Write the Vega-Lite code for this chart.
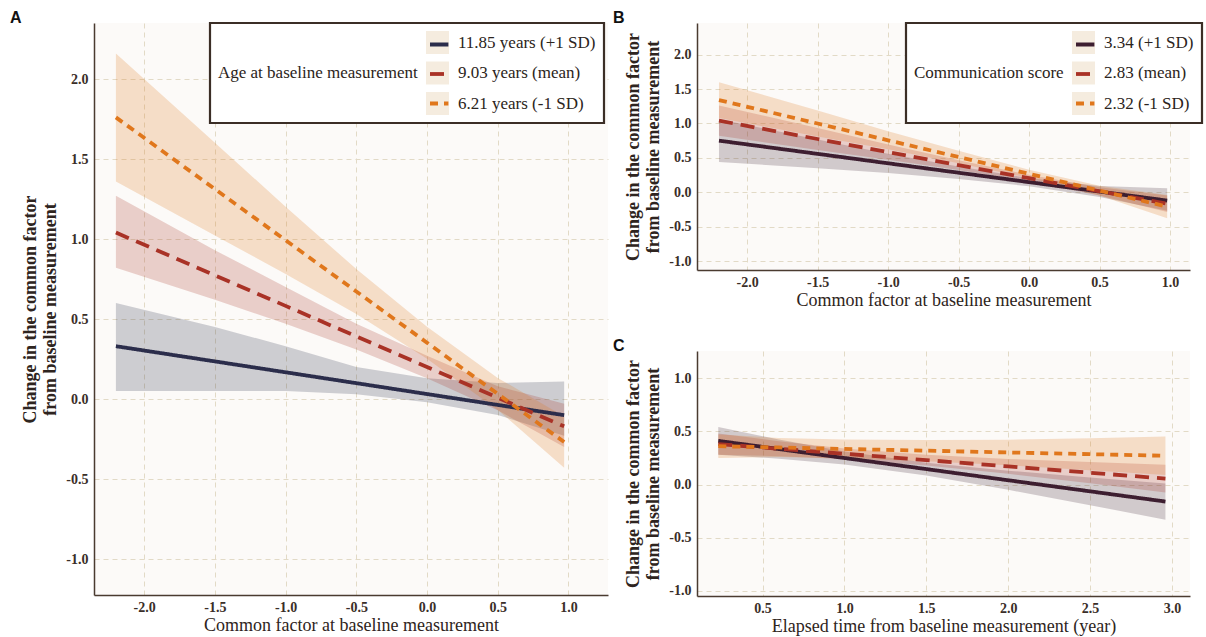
{
  "$schema": "https://vega.github.io/schema/vega-lite/v6.json",
  "background": "white",
  "padding": {"left": 10, "top": 9, "right": 2, "bottom": 2},
  "bounds": "flush",
  "spacing": 89,
  "config": {
    "view": {"stroke": null, "fill": "#fcfaf8"},
    "axis": {
      "domainColor": "#4a3b30", "domainWidth": 1.5, "ticks": false,
      "grid": true, "gridColor": "#e2dac6", "gridDash": [5, 4], "gridWidth": 1,
      "labelFont": "Liberation Serif", "labelFontWeight": "bold", "labelFontSize": 14, "labelColor": "#3a2e28",
      "labelExpr": "replace(format(datum.value, '.1f'), '\u2212', '-')",
      "titleFont": "Liberation Serif", "titleFontSize": 18, "titleColor": "#2e2420"
    },
    "axisX": {"titleFontWeight": "normal", "titlePadding": 2, "labelPadding": 5},
    "axisY": {"titleFontWeight": "bold", "titlePadding": 6, "labelPadding": 6, "titleLineHeight": 20},
    "legend": {
      "orient": "none", "titleOrient": "left", "titleAnchor": "middle", "titleBaseline": "middle", "titleAngle": 0,
      "titleFont": "Liberation Serif", "titleFontSize": 17, "titleFontWeight": "normal", "titleColor": "#2b2420",
      "labelFont": "Liberation Serif", "labelFontSize": 17, "labelColor": "#2b2420",
      "padding": 8, "rowPadding": 7.5, "symbolSize": 529, "labelOffset": 9, "titlePadding": 8,
      "titleLimit": 400, "labelLimit": 300, "strokeWidth": 2.2
    },
    "title": {"font": "Liberation Sans", "fontSize": 16, "fontWeight": "bold", "color": "#111111", "anchor": "start", "frame": "group", "offset": 0, "baseline": "alphabetic"}
  },
  "datasets": {
    "a": [
      {"g": "11.85 years (+1 SD)", "x": -2.2, "y": 0.33, "lo": 0.05, "hi": 0.60},
      {"g": "11.85 years (+1 SD)", "x": -1.5, "y": 0.235, "lo": 0.05, "hi": 0.45},
      {"g": "11.85 years (+1 SD)", "x": -1.0, "y": 0.167, "lo": 0.05, "hi": 0.33},
      {"g": "11.85 years (+1 SD)", "x": -0.5, "y": 0.099, "lo": 0.03, "hi": 0.20},
      {"g": "11.85 years (+1 SD)", "x": 0.0, "y": 0.031, "lo": -0.02, "hi": 0.13},
      {"g": "11.85 years (+1 SD)", "x": 0.5, "y": -0.037, "lo": -0.10, "hi": 0.10},
      {"g": "11.85 years (+1 SD)", "x": 0.97, "y": -0.101, "lo": -0.23, "hi": 0.11},
      {"g": "9.03 years (mean)", "x": -2.2, "y": 1.04, "lo": 0.82, "hi": 1.27},
      {"g": "9.03 years (mean)", "x": -1.5, "y": 0.773, "lo": 0.62, "hi": 0.93},
      {"g": "9.03 years (mean)", "x": -1.0, "y": 0.582, "lo": 0.47, "hi": 0.70},
      {"g": "9.03 years (mean)", "x": -0.5, "y": 0.391, "lo": 0.31, "hi": 0.47},
      {"g": "9.03 years (mean)", "x": 0.0, "y": 0.200, "lo": 0.13, "hi": 0.27},
      {"g": "9.03 years (mean)", "x": 0.5, "y": 0.009, "lo": -0.07, "hi": 0.08},
      {"g": "9.03 years (mean)", "x": 0.97, "y": -0.171, "lo": -0.30, "hi": -0.03},
      {"g": "6.21 years (-1 SD)", "x": -2.2, "y": 1.76, "lo": 1.36, "hi": 2.16},
      {"g": "6.21 years (-1 SD)", "x": -1.5, "y": 1.312, "lo": 1.022, "hi": 1.602},
      {"g": "6.21 years (-1 SD)", "x": -1.0, "y": 0.992, "lo": 0.782, "hi": 1.202},
      {"g": "6.21 years (-1 SD)", "x": -0.5, "y": 0.672, "lo": 0.532, "hi": 0.812},
      {"g": "6.21 years (-1 SD)", "x": 0.0, "y": 0.352, "lo": 0.252, "hi": 0.452},
      {"g": "6.21 years (-1 SD)", "x": 0.5, "y": 0.032, "lo": -0.068, "hi": 0.132},
      {"g": "6.21 years (-1 SD)", "x": 0.97, "y": -0.269, "lo": -0.429, "hi": -0.109}
    ],
    "b": [
      {"g": "3.34 (+1 SD)", "x": -2.2, "y": 0.75, "lo": 0.44, "hi": 1.06},
      {"g": "3.34 (+1 SD)", "x": -1.5, "y": 0.558, "lo": 0.348, "hi": 0.768},
      {"g": "3.34 (+1 SD)", "x": -1.0, "y": 0.421, "lo": 0.281, "hi": 0.561},
      {"g": "3.34 (+1 SD)", "x": -0.5, "y": 0.284, "lo": 0.194, "hi": 0.374},
      {"g": "3.34 (+1 SD)", "x": 0.0, "y": 0.147, "lo": 0.087, "hi": 0.207},
      {"g": "3.34 (+1 SD)", "x": 0.5, "y": 0.010, "lo": -0.07, "hi": 0.09},
      {"g": "3.34 (+1 SD)", "x": 0.98, "y": -0.121, "lo": -0.27, "hi": 0.06},
      {"g": "2.83 (mean)", "x": -2.2, "y": 1.04, "lo": 0.82, "hi": 1.26},
      {"g": "2.83 (mean)", "x": -1.5, "y": 0.774, "lo": 0.614, "hi": 0.934},
      {"g": "2.83 (mean)", "x": -1.0, "y": 0.584, "lo": 0.474, "hi": 0.694},
      {"g": "2.83 (mean)", "x": -0.5, "y": 0.394, "lo": 0.324, "hi": 0.464},
      {"g": "2.83 (mean)", "x": 0.0, "y": 0.204, "lo": 0.154, "hi": 0.254},
      {"g": "2.83 (mean)", "x": 0.5, "y": 0.014, "lo": -0.046, "hi": 0.074},
      {"g": "2.83 (mean)", "x": 0.98, "y": -0.168, "lo": -0.288, "hi": -0.048},
      {"g": "2.32 (-1 SD)", "x": -2.2, "y": 1.34, "lo": 1.08, "hi": 1.60},
      {"g": "2.32 (-1 SD)", "x": -1.5, "y": 0.999, "lo": 0.809, "hi": 1.189},
      {"g": "2.32 (-1 SD)", "x": -1.0, "y": 0.755, "lo": 0.625, "hi": 0.885},
      {"g": "2.32 (-1 SD)", "x": -0.5, "y": 0.512, "lo": 0.422, "hi": 0.602},
      {"g": "2.32 (-1 SD)", "x": 0.0, "y": 0.268, "lo": 0.208, "hi": 0.328},
      {"g": "2.32 (-1 SD)", "x": 0.5, "y": 0.024, "lo": -0.046, "hi": 0.094},
      {"g": "2.32 (-1 SD)", "x": 0.98, "y": -0.209, "lo": -0.379, "hi": -0.039}
    ],
    "c": [
      {"g": "3.34 (+1 SD)", "x": 0.23, "y": 0.41, "lo": 0.28, "hi": 0.54},
      {"g": "3.34 (+1 SD)", "x": 0.6, "y": 0.333, "lo": 0.243, "hi": 0.423},
      {"g": "3.34 (+1 SD)", "x": 1.0, "y": 0.249, "lo": 0.189, "hi": 0.309},
      {"g": "3.34 (+1 SD)", "x": 1.5, "y": 0.145, "lo": 0.085, "hi": 0.205},
      {"g": "3.34 (+1 SD)", "x": 2.0, "y": 0.040, "lo": -0.05, "hi": 0.13},
      {"g": "3.34 (+1 SD)", "x": 2.5, "y": -0.064, "lo": -0.194, "hi": 0.066},
      {"g": "3.34 (+1 SD)", "x": 2.96, "y": -0.160, "lo": -0.33, "hi": 0.01},
      {"g": "2.83 (mean)", "x": 0.23, "y": 0.38, "lo": 0.28, "hi": 0.48},
      {"g": "2.83 (mean)", "x": 0.6, "y": 0.336, "lo": 0.266, "hi": 0.406},
      {"g": "2.83 (mean)", "x": 1.0, "y": 0.289, "lo": 0.239, "hi": 0.339},
      {"g": "2.83 (mean)", "x": 1.5, "y": 0.229, "lo": 0.179, "hi": 0.279},
      {"g": "2.83 (mean)", "x": 2.0, "y": 0.170, "lo": 0.10, "hi": 0.24},
      {"g": "2.83 (mean)", "x": 2.5, "y": 0.111, "lo": 0.011, "hi": 0.211},
      {"g": "2.83 (mean)", "x": 2.96, "y": 0.056, "lo": -0.074, "hi": 0.186},
      {"g": "2.32 (-1 SD)", "x": 0.23, "y": 0.36, "lo": 0.25, "hi": 0.47},
      {"g": "2.32 (-1 SD)", "x": 0.6, "y": 0.348, "lo": 0.258, "hi": 0.438},
      {"g": "2.32 (-1 SD)", "x": 1.0, "y": 0.334, "lo": 0.244, "hi": 0.424},
      {"g": "2.32 (-1 SD)", "x": 1.5, "y": 0.318, "lo": 0.218, "hi": 0.418},
      {"g": "2.32 (-1 SD)", "x": 2.0, "y": 0.301, "lo": 0.181, "hi": 0.421},
      {"g": "2.32 (-1 SD)", "x": 2.5, "y": 0.285, "lo": 0.135, "hi": 0.435},
      {"g": "2.32 (-1 SD)", "x": 2.96, "y": 0.270, "lo": 0.09, "hi": 0.45}
    ]
  },
  "resolve": {
    "scale": {"fill": "independent", "shape": "independent", "stroke": "independent", "strokeDash": "independent"},
    "legend": {"fill": "independent", "shape": "independent", "stroke": "independent", "strokeDash": "independent"}
  },
  "hconcat": [
    {
      "width": 514, "height": 572,
      "title": {"text": "A", "dx": -84, "dy": 8},
      "data": {"name": "a"},
      "layer": [
        {
          "mark": {"type": "point", "filled": true, "opacity": 0, "color": "#f5ecdf"},
          "encoding": {
            "x": {"field": "x", "type": "quantitative", "scale": {"domain": [-2.355, 1.28], "nice": false, "zero": false},
                  "axis": {"values": [-2, -1.5, -1, -0.5, 0, 0.5, 1], "title": "Common factor at baseline measurement"}},
            "y": {"field": "y", "type": "quantitative", "scale": {"domain": [-1.225, 2.35], "nice": false, "zero": false},
                  "axis": {"values": [-1, -0.5, 0, 0.5, 1, 1.5, 2], "title": ["Change in the common factor", "from baseline measurement"]}},
            "shape": {"field": "g", "type": "nominal", "scale": {"range": ["square", "square", "square"]},
                      "legend": {"title": "Age at baseline measurement", "legendX": 116, "legendY": 0,
                                 "values": ["11.85 years (+1 SD)", "9.03 years (mean)", "6.21 years (-1 SD)"],
                                 "symbolOpacity": 1, "symbolFillColor": "#f5ecdf", "symbolStrokeWidth": 0,
                                 "fillColor": "white", "strokeColor": "#3b2e26"}}
          }
        },
        {
          "mark": {"type": "area", "fillOpacity": 0.22},
          "encoding": {
            "x": {"field": "x", "type": "quantitative"},
            "y": {"field": "lo", "type": "quantitative"},
            "y2": {"field": "hi"},
            "fill": {"field": "g", "type": "nominal", "scale": {"range": ["#2b2d4b", "#e0771c", "#a93226"]}, "legend": null}
          }
        },
        {
          "mark": {"type": "line", "strokeWidth": 3.8},
          "encoding": {
            "x": {"field": "x", "type": "quantitative"},
            "y": {"field": "y", "type": "quantitative"},
            "stroke": {"field": "g", "type": "nominal",
                       "scale": {"domain": ["11.85 years (+1 SD)", "9.03 years (mean)", "6.21 years (-1 SD)"], "range": ["#2b2d4b", "#a93226", "#e0771c"]},
                       "legend": {"title": null, "labelExpr": "''", "legendX": 323.7, "legendY": 0, "symbolType": "M-0.8,0H0.8", "symbolStrokeWidth": 3.8}},
            "strokeDash": {"field": "g", "type": "nominal",
                           "scale": {"domain": ["11.85 years (+1 SD)", "9.03 years (mean)", "6.21 years (-1 SD)"], "range": [[1, 0], [14, 8], [8, 6]]},
                           "legend": {"title": null, "labelExpr": "''", "legendX": 323.7, "legendY": 0, "symbolType": "M-0.8,0H0.8", "symbolStrokeWidth": 3.8}}
          }
        }
      ]
    },
    {
      "bounds": "flush",
      "spacing": 81,
      "resolve": {
        "scale": {"fill": "independent", "shape": "independent", "stroke": "independent", "strokeDash": "independent"},
        "legend": {"fill": "independent", "shape": "independent", "stroke": "independent", "strokeDash": "independent"}
      },
      "vconcat": [
        {
          "width": 493, "height": 247,
          "title": {"text": "B", "dx": -84, "dy": 8},
          "data": {"name": "b"},
          "layer": [
            {
              "mark": {"type": "point", "filled": true, "opacity": 0, "color": "#f5ecdf"},
              "encoding": {
                "x": {"field": "x", "type": "quantitative", "scale": {"domain": [-2.356, 1.142], "nice": false, "zero": false},
                      "axis": {"values": [-2, -1.5, -1, -0.5, 0, 0.5, 1], "title": "Common factor at baseline measurement"}},
                "y": {"field": "y", "type": "quantitative", "scale": {"domain": [-1.13, 2.46], "nice": false, "zero": false},
                      "axis": {"values": [-1, -0.5, 0, 0.5, 1, 1.5, 2], "title": ["Change in the common factor", "from baseline measurement"]}},
                "shape": {"field": "g", "type": "nominal", "scale": {"range": ["square", "square", "square"]},
                          "legend": {"title": "Communication score", "legendX": 209, "legendY": 0,
                                     "values": ["3.34 (+1 SD)", "2.83 (mean)", "2.32 (-1 SD)"],
                                     "symbolOpacity": 1, "symbolFillColor": "#f5ecdf", "symbolStrokeWidth": 0,
                                     "fillColor": "white", "strokeColor": "#3b2e26"}}
              }
            },
            {
              "mark": {"type": "area", "fillOpacity": 0.22},
              "encoding": {
                "x": {"field": "x", "type": "quantitative"},
                "y": {"field": "lo", "type": "quantitative"},
                "y2": {"field": "hi"},
                "fill": {"field": "g", "type": "nominal", "scale": {"range": ["#e0771c", "#a93226", "#3d1e30"]}, "legend": null}
              }
            },
            {
              "mark": {"type": "line", "strokeWidth": 3.8},
              "encoding": {
                "x": {"field": "x", "type": "quantitative"},
                "y": {"field": "y", "type": "quantitative"},
                "stroke": {"field": "g", "type": "nominal",
                           "scale": {"domain": ["3.34 (+1 SD)", "2.83 (mean)", "2.32 (-1 SD)"], "range": ["#3d1e30", "#a93226", "#e0771c"]},
                           "legend": {"title": null, "labelExpr": "''", "legendX": 366.7, "legendY": 0, "symbolType": "M-0.8,0H0.8", "symbolStrokeWidth": 3.8}},
                "strokeDash": {"field": "g", "type": "nominal",
                               "scale": {"domain": ["3.34 (+1 SD)", "2.83 (mean)", "2.32 (-1 SD)"], "range": [[1, 0], [14, 8], [8, 6]]},
                               "legend": {"title": null, "labelExpr": "''", "legendX": 366.7, "legendY": 0, "symbolType": "M-0.8,0H0.8", "symbolStrokeWidth": 3.8}}
              }
            }
          ]
        },
        {
          "width": 493, "height": 245,
          "title": {"text": "C", "dx": -84, "dy": 7},
          "data": {"name": "c"},
          "layer": [
            {
              "mark": {"type": "area", "fillOpacity": 0.22},
              "encoding": {
                "x": {"field": "x", "type": "quantitative", "scale": {"domain": [0.10, 3.11], "nice": false, "zero": false},
                      "axis": {"values": [0.5, 1, 1.5, 2, 2.5, 3], "title": "Elapsed time from baseline measurement (year)"}},
                "y": {"field": "lo", "type": "quantitative", "scale": {"domain": [-1.047, 1.254], "nice": false, "zero": false},
                      "axis": {"values": [-1, -0.5, 0, 0.5, 1], "title": ["Change in the common factor", "from baseline measurement"]}},
                "y2": {"field": "hi"},
                "fill": {"field": "g", "type": "nominal", "scale": {"range": ["#e0771c", "#a93226", "#3d1e30"]}, "legend": null}
              }
            },
            {
              "mark": {"type": "line", "strokeWidth": 3.8},
              "encoding": {
                "x": {"field": "x", "type": "quantitative"},
                "y": {"field": "y", "type": "quantitative"},
                "stroke": {"field": "g", "type": "nominal",
                           "scale": {"domain": ["3.34 (+1 SD)", "2.83 (mean)", "2.32 (-1 SD)"], "range": ["#3d1e30", "#a93226", "#e0771c"]}, "legend": null},
                "strokeDash": {"field": "g", "type": "nominal",
                               "scale": {"domain": ["3.34 (+1 SD)", "2.83 (mean)", "2.32 (-1 SD)"], "range": [[1, 0], [14, 8], [8, 6]]}, "legend": null}
              }
            }
          ]
        }
      ]
    }
  ]
}
